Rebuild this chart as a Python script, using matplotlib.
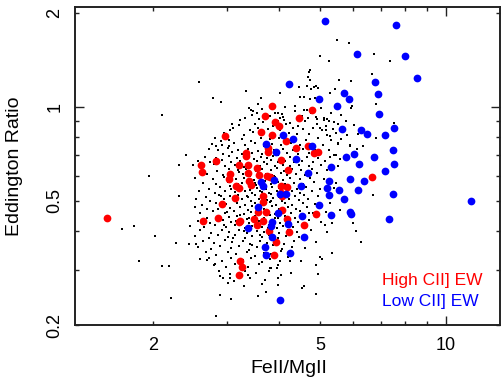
import matplotlib
matplotlib.use("Agg")
import matplotlib.pyplot as plt
from matplotlib.ticker import FixedLocator, FixedFormatter, FuncFormatter

plt.rcParams["font.family"] = ["Liberation Sans", "DejaVu Sans"]

# high CII] EW objects (red)
high_x = [1.55, 2.60, 2.61, 2.63, 2.82, 2.85, 2.91, 2.96, 3.03, 3.05, 3.13, 3.15, 3.20, 3.21,
          3.20, 3.23, 3.22, 3.26, 3.20, 3.33, 3.33, 3.37, 3.36, 3.39, 3.42, 3.48, 3.53, 3.54,
          3.55, 3.58, 3.61, 3.65, 3.65, 3.66, 3.69, 3.72, 3.75, 3.75, 3.74, 3.79, 3.78, 3.84,
          3.85, 3.90, 3.88, 3.93, 4.00, 4.03, 4.03, 4.03, 4.06, 4.05, 4.15, 4.18, 4.20, 4.18,
          4.21, 4.38, 4.46, 4.58, 4.69, 4.78, 4.83, 4.89, 4.94, 6.64]
high_y = [0.44, 0.65, 0.62, 0.43, 0.67, 0.44, 0.49, 0.81, 0.59, 0.61, 0.51, 0.56, 0.55, 0.65,
          0.427, 0.43, 0.32, 0.306, 0.29, 0.712, 0.695, 0.65, 0.614, 0.58, 0.562, 0.4375, 0.637, 0.418,
          0.46, 0.607, 0.83, 0.52, 0.497, 0.43, 0.938, 0.46, 0.72, 0.74, 0.60, 0.595, 0.40, 1.012,
          0.815, 0.893, 0.336, 0.37, 0.871, 0.678, 0.557, 0.53, 0.52, 0.469, 0.78, 0.553, 0.63, 0.4375,
          0.397, 0.739, 0.92, 0.418, 0.748, 0.98, 0.712, 0.455, 0.717, 0.598]

# low CII] EW objects (blue)
low_x = [5.14, 7.60, 6.12, 8.00, 8.54, 4.22, 6.77, 5.71, 6.88, 4.98, 5.87, 5.49, 6.90, 5.66,
         6.27, 6.49, 7.52, 7.14, 4.09, 4.30, 3.72, 3.92, 4.79, 4.38, 5.77, 6.03, 6.73, 7.47,
         6.20, 7.52, 5.31, 4.67, 7.16, 5.90, 6.36, 5.25, 3.88, 3.61, 3.66, 4.51, 5.20, 5.55,
         6.15, 5.25, 7.46, 4.02, 4.14, 5.70, 4.98, 11.5, 3.56, 3.97, 5.90, 5.93, 4.52, 5.30,
         7.30, 3.85, 3.82, 4.20, 3.37, 3.85, 4.58, 3.69, 3.72, 4.23, 4.02]
low_y = [1.896, 1.836, 1.479, 1.464, 1.236, 1.185, 1.206, 1.114, 1.098, 1.063, 1.063, 1.005, 0.952, 0.848,
         0.845, 0.823, 0.854, 0.815, 0.815, 0.79, 0.761, 0.719, 0.752, 0.681, 0.691, 0.707, 0.69, 0.728,
         0.655, 0.657, 0.641, 0.615, 0.622, 0.588, 0.58, 0.578, 0.583, 0.574, 0.557, 0.557, 0.55, 0.543,
         0.542, 0.521, 0.526, 0.527, 0.526, 0.507, 0.484, 0.50, 0.478, 0.456, 0.462, 0.455, 0.448, 0.452,
         0.4375, 0.427, 0.417, 0.422, 0.41, 0.384, 0.384, 0.355, 0.335, 0.34, 0.24]

# parent sample (small black dots)
field = [
    (3.38, 0.99), (3.46, 0.97), (3.63, 0.985), (3.91, 0.96), (4.36, 0.975), (5.03, 0.99), (4.12, 1.0), (3.55, 1.02),
    (3.44, 0.945), (3.53, 0.955), (3.79, 0.94), (4.06, 0.95), (4.52, 0.935), (5.32, 0.955), (5.62, 0.945), (4.75, 0.96),
    (3.31, 0.925), (3.58, 0.915), (3.74, 0.93), (4.11, 0.91), (4.69, 0.92), (5.12, 0.925), (5.26, 0.905), (4.93, 0.915),
    (3.66, 0.895), (3.96, 0.9), (4.24, 0.89), (4.61, 0.9), (5.41, 0.895), (5.78, 0.9),
    (3.21, 0.875), (3.49, 0.88), (3.86, 0.87), (4.16, 0.885), (4.44, 0.872), (4.91, 0.88), (5.16, 0.868), (5.52, 0.882), (6.02, 0.875),
    (3.1, 0.855), (3.41, 0.845), (3.56, 0.86), (3.76, 0.85), (4.01, 0.842), (4.31, 0.855), (4.56, 0.848), (4.82, 0.857), (5.06, 0.843), (5.36, 0.852),
    (2.95, 0.825), (3.29, 0.815), (3.46, 0.83), (3.66, 0.82), (3.89, 0.812), (4.21, 0.826), (4.41, 0.818), (4.71, 0.823), (5.21, 0.814), (5.46, 0.828), (6.18, 0.82),
    (2.81, 0.795), (3.04, 0.785), (3.26, 0.792), (3.43, 0.781), (3.61, 0.797), (3.79, 0.788), (3.99, 0.794), (4.13, 0.78), (4.33, 0.79), (4.62, 0.785), (4.96, 0.796), (5.31, 0.783), (5.62, 0.79),
    (2.76, 0.762), (2.91, 0.755), (3.12, 0.768), (3.31, 0.758), (3.49, 0.765), (3.67, 0.752), (3.84, 0.763), (4.03, 0.757), (4.26, 0.766), (4.49, 0.754), (4.76, 0.761), (5.09, 0.756), (5.51, 0.764), (5.91, 0.758),
    (2.71, 0.735), (2.86, 0.727), (3.01, 0.738), (3.19, 0.729), (3.37, 0.734), (3.56, 0.725), (3.71, 0.737), (3.89, 0.728), (4.09, 0.733), (4.31, 0.726), (4.56, 0.736), (4.86, 0.73), (5.26, 0.727), (6.12, 0.734),
    (2.94, 0.708), (3.09, 0.716), (3.26, 0.705), (3.44, 0.713), (3.63, 0.707), (3.77, 0.714), (3.97, 0.704), (4.17, 0.711), (4.43, 0.706), (4.71, 0.715), (5.01, 0.709), (5.39, 0.703),
    (2.66, 0.692), (2.83, 0.686), (3.03, 0.695), (3.16, 0.688), (3.31, 0.694), (3.47, 0.684), (3.61, 0.691), (3.73, 0.687), (3.87, 0.696), (4.04, 0.685), (4.23, 0.693), (4.41, 0.688), (4.66, 0.694), (4.94, 0.686), (5.28, 0.691),
    (2.56, 0.672), (2.73, 0.666), (2.91, 0.675), (3.07, 0.668), (3.23, 0.673), (3.39, 0.664), (3.53, 0.671), (3.67, 0.667), (3.83, 0.676), (3.97, 0.665), (4.13, 0.672), (4.33, 0.667), (4.54, 0.674), (4.81, 0.668), (5.14, 0.671),
    (2.79, 0.655), (2.97, 0.648), (3.13, 0.653), (3.29, 0.644), (3.43, 0.651), (3.59, 0.647), (3.73, 0.656), (3.91, 0.645), (4.07, 0.652), (4.24, 0.647), (4.46, 0.654), (4.71, 0.648), (5.04, 0.651), (5.52, 0.645),
    (2.61, 0.632), (2.84, 0.626), (3.03, 0.635), (3.19, 0.628), (3.33, 0.633), (3.51, 0.624), (3.63, 0.631), (3.81, 0.627), (3.94, 0.636), (4.11, 0.625), (4.29, 0.632), (4.51, 0.627), (4.79, 0.634), (5.21, 0.628),
    (2.69, 0.612), (2.93, 0.606), (3.09, 0.615), (3.27, 0.608), (3.41, 0.613), (3.54, 0.604), (3.71, 0.611), (3.85, 0.607), (4.03, 0.616), (4.17, 0.605), (4.39, 0.612), (4.61, 0.607), (4.91, 0.613),
    (2.51, 0.592), (2.77, 0.586), (2.95, 0.595), (3.15, 0.588), (3.29, 0.593), (3.47, 0.584), (3.59, 0.591), (3.76, 0.587), (3.91, 0.596), (4.09, 0.585), (4.24, 0.592), (4.47, 0.587), (4.74, 0.594), (5.11, 0.588),
    (2.63, 0.572), (2.83, 0.566), (3.01, 0.575), (3.19, 0.568), (3.37, 0.573), (3.51, 0.564), (3.67, 0.571), (3.81, 0.567), (3.98, 0.576), (4.13, 0.565), (4.33, 0.572), (4.56, 0.567), (4.84, 0.574),
    (2.71, 0.546), (2.89, 0.555), (3.07, 0.548), (3.23, 0.553), (3.41, 0.544), (3.54, 0.551), (3.71, 0.547), (3.85, 0.556), (4.03, 0.545), (4.19, 0.552), (4.41, 0.547), (4.64, 0.554), (5.01, 0.548), (5.41, 0.551),
    (2.57, 0.537), (2.81, 0.531), (2.97, 0.539), (3.13, 0.533), (3.31, 0.538), (3.45, 0.529), (3.63, 0.536), (3.77, 0.532), (3.94, 0.54), (4.09, 0.53), (4.29, 0.537), (4.49, 0.532), (4.79, 0.538),
    (2.67, 0.516), (2.87, 0.524), (3.05, 0.518), (3.19, 0.523), (3.37, 0.514), (3.49, 0.521), (3.67, 0.517), (3.81, 0.525), (3.99, 0.515), (4.15, 0.522), (4.37, 0.517), (4.59, 0.523), (4.96, 0.518),
    (2.53, 0.507), (2.73, 0.501), (2.95, 0.509), (3.11, 0.503), (3.25, 0.508), (3.43, 0.499), (3.57, 0.506), (3.73, 0.502), (3.87, 0.51), (4.06, 0.5), (4.21, 0.507), (4.45, 0.502), (4.69, 0.508),
    (2.61, 0.486), (2.83, 0.494), (2.99, 0.488), (3.17, 0.493), (3.31, 0.484), (3.49, 0.491), (3.61, 0.487), (3.79, 0.495), (3.93, 0.485), (4.13, 0.492), (4.29, 0.487), (4.56, 0.493), (4.86, 0.488), (5.29, 0.491),
    (2.69, 0.471), (2.91, 0.479), (3.05, 0.473), (3.23, 0.478), (3.37, 0.469), (3.55, 0.476), (3.67, 0.472), (3.85, 0.48), (3.99, 0.47), (4.19, 0.477), (4.39, 0.472), (4.66, 0.478),
    (2.59, 0.456), (2.77, 0.464), (2.97, 0.458), (3.11, 0.463), (3.29, 0.454), (3.43, 0.461), (3.61, 0.457), (3.73, 0.465), (3.91, 0.455), (4.07, 0.462), (4.27, 0.457), (4.49, 0.463), (4.81, 0.458), (5.16, 0.461),
    (2.69, 0.441), (2.85, 0.449), (3.03, 0.443), (3.17, 0.448), (3.35, 0.439), (3.49, 0.446), (3.67, 0.442), (3.79, 0.45), (3.97, 0.44), (4.13, 0.447), (4.36, 0.442), (4.61, 0.448),
    (2.56, 0.432), (2.73, 0.426), (2.93, 0.434), (3.07, 0.428), (3.25, 0.433), (3.39, 0.424), (3.57, 0.431), (3.71, 0.427), (3.87, 0.435), (4.01, 0.425), (4.21, 0.432), (4.43, 0.427), (4.71, 0.433), (5.02, 0.428),
    (2.65, 0.411), (2.81, 0.419), (2.99, 0.413), (3.13, 0.418), (3.31, 0.409), (3.45, 0.416), (3.63, 0.412), (3.77, 0.42), (3.95, 0.41), (4.09, 0.417), (4.31, 0.412), (4.54, 0.418),
    (2.59, 0.402), (2.75, 0.396), (2.91, 0.404), (3.03, 0.398), (3.21, 0.403), (3.35, 0.394), (3.53, 0.401), (3.67, 0.397), (3.85, 0.405), (3.99, 0.395), (4.19, 0.402), (4.41, 0.397), (4.76, 0.403), (5.21, 0.398),
    (2.51, 0.387), (2.71, 0.381), (2.85, 0.389), (3.01, 0.383), (3.13, 0.388), (3.31, 0.379), (3.45, 0.386), (3.63, 0.382), (3.77, 0.39), (3.96, 0.38), (4.16, 0.387), (4.46, 0.382),
    (2.63, 0.372), (2.79, 0.366), (2.97, 0.374), (3.09, 0.368), (3.27, 0.373), (3.41, 0.364), (3.59, 0.371), (3.73, 0.367), (3.91, 0.375), (4.11, 0.365), (4.34, 0.372),
    (2.55, 0.357), (2.75, 0.351), (2.89, 0.359), (3.07, 0.353), (3.21, 0.358), (3.39, 0.349), (3.53, 0.356), (3.71, 0.352), (3.87, 0.36), (4.06, 0.35), (4.29, 0.357), (4.61, 0.352),
    (2.67, 0.342), (2.83, 0.336), (3.01, 0.344), (3.15, 0.338), (3.35, 0.343), (3.49, 0.334), (3.67, 0.341), (3.83, 0.337), (4.03, 0.345), (4.24, 0.335),
    (2.71, 0.327), (2.91, 0.321), (3.07, 0.329), (3.27, 0.323), (3.43, 0.328), (3.63, 0.319), (3.79, 0.326), (4.01, 0.322), (4.19, 0.33), (4.51, 0.32),
    (2.79, 0.312), (2.99, 0.306), (3.13, 0.314), (3.37, 0.308), (3.57, 0.313), (3.79, 0.304), (3.97, 0.311),
    (2.87, 0.297), (3.05, 0.291), (3.31, 0.299), (3.51, 0.293), (3.77, 0.298), (4.04, 0.29),
    (2.93, 0.282), (3.11, 0.276), (3.41, 0.284), (3.69, 0.278), (3.96, 0.283),
    (3.01, 0.272), (3.29, 0.266), (3.63, 0.27),
    # denser core
    (3.05, 0.56), (3.15, 0.5), (3.22, 0.45), (3.35, 0.52), (3.45, 0.48), (3.52, 0.43), (3.6, 0.54), (3.68, 0.46),
    (3.75, 0.41), (3.82, 0.5), (3.3, 0.4), (3.4, 0.6), (3.2, 0.62), (3.55, 0.62), (3.7, 0.58), (3.9, 0.44),
    (3.0, 0.46), (2.9, 0.52), (3.1, 0.38), (3.45, 0.36), (3.6, 0.39), (2.95, 0.42), (3.25, 0.57), (3.5, 0.57),
    (3.88, 0.6), (4.0, 0.55), (3.38, 0.44), (3.15, 0.43), (2.85, 0.47), (3.65, 0.5),
    # scattered outliers
    (2.57, 1.2), (2.1, 0.945), (2.78, 1.07), (2.9, 1.04), (3.33, 1.13), (3.62, 1.07), (3.43, 0.98), (3.22, 0.91),
    (3.08, 0.88), (3.05, 0.846), (2.83, 0.75), (2.9, 0.776), (3.04, 0.748),
    (5.5, 1.64), (5.88, 1.61), (5.0, 1.46), (5.25, 1.41), (6.73, 1.48), (7.37, 1.41), (4.74, 1.32), (4.71, 1.30),
    (4.69, 1.25), (4.74, 1.22), (6.67, 1.28), (4.46, 1.16), (4.65, 1.165), (4.77, 1.14), (4.85, 1.16), (4.9, 1.17),
    (4.95, 1.15), (5.55, 1.22), (5.92, 1.21), (5.27, 1.11), (5.43, 1.14), (4.02, 1.11), (4.48, 1.08), (4.57, 1.077),
    (4.74, 1.06), (4.86, 1.066), (5.98, 1.01), (5.92, 0.99), (6.8, 1.025), (4.36, 1.01), (4.57, 0.976), (4.65, 0.98),
    (3.97, 0.956), (4.09, 0.929), (4.01, 0.922), (4.82, 0.956), (4.9, 0.933), (5.1, 0.91), (5.2, 0.915), (5.0, 0.857),
    (5.17, 0.842), (5.63, 0.83), (5.8, 0.815), (6.8, 0.796), (7.5, 0.889), (5.28, 0.806), (5.53, 0.767), (5.9, 0.752),
    (6.32, 0.748), (5.46, 0.70), (5.58, 0.68), (6.7, 0.524), (5.58, 0.466), (5.33, 0.426), (5.15, 0.42), (5.45, 0.57),
    (4.72, 0.457), (4.65, 0.415), (6.0, 0.425), (6.1, 0.40), (6.25, 0.368), (4.9, 0.368), (5.0, 0.33), (5.07, 0.325),
    (4.9, 0.312), (4.95, 0.292), (5.33, 0.34), (4.57, 0.267), (4.52, 0.262), (4.88, 0.252), (4.27, 0.294), (3.98, 0.268),
    (4.24, 0.32), (3.94, 0.305), (3.81, 0.305), (3.72, 0.255), (3.56, 0.248), (3.37, 0.29), (3.07, 0.243), (2.89, 0.249),
    (2.83, 0.213), (3.05, 0.283), (2.88, 0.287), (2.81, 0.313), (2.58, 0.326), (2.68, 0.324), (2.2, 0.244), (2.1, 0.309),
    (2.18, 0.309), (1.85, 0.32), (2.02, 0.385), (1.8, 0.416), (1.68, 0.406), (1.95, 0.60), (2.3, 0.65), (2.39, 0.704),
    (2.49, 0.65), (2.3, 0.52), (2.51, 0.478), (2.45, 0.415), (2.27, 0.367), (2.43, 0.363), (2.53, 0.364),
]
field_x = [p[0] for p in field]
field_y = [p[1] for p in field]

x_minor = [2, 3, 4, 5, 6, 7, 8, 9]
x_labels = {2: "2", 5: "5"}
y_minor = [0.2, 0.3, 0.4, 0.5, 0.6, 0.7, 0.8, 0.9, 2]
y_labels = {0.2: "0.2", 0.5: "0.5", 2.0: "2"}


def main() -> None:
    fig = plt.figure(figsize=(5.01, 3.79), dpi=100)
    ax = fig.add_axes([75 / 501, 54 / 379, 425 / 501, 318.3 / 379])
    ax.set_xscale("log")
    ax.set_yscale("log")

    ax.scatter(field_x, field_y, s=1.6, marker="s", c="black", linewidths=0, zorder=2)
    ax.scatter(high_x, high_y, s=31, c="#ff0000", linewidths=0, zorder=3)
    ax.scatter(low_x, low_y, s=31, c="#0000ff", linewidths=0, zorder=4)

    ax.set_xlim(1.30, 13.46)
    ax.set_ylim(0.2, 2.10)

    ax.xaxis.set_major_locator(FixedLocator([10]))
    ax.xaxis.set_major_formatter(FixedFormatter(["10"]))
    ax.xaxis.set_minor_locator(FixedLocator(x_minor))
    ax.xaxis.set_minor_formatter(FuncFormatter(lambda v, p: x_labels.get(round(v), "")))
    ax.yaxis.set_major_locator(FixedLocator([1]))
    ax.yaxis.set_major_formatter(FixedFormatter(["1"]))
    ax.yaxis.set_minor_locator(FixedLocator(y_minor))
    ax.yaxis.set_minor_formatter(FuncFormatter(lambda v, p: y_labels.get(round(v, 1), "")))

    ax.tick_params(which="both", direction="in", top=True, right=True,
                   labelsize=13, pad=8.5, width=1.0, color="#222222")
    ax.tick_params(which="major", length=6.5)
    ax.tick_params(which="minor", length=3.1)
    ax.tick_params(axis="y", which="both", labelrotation=90)
    for lbl in ax.get_yticklabels(which="both"):
        lbl.set_verticalalignment("center")
    for side in ax.spines.values():
        side.set_linewidth(1.4)
        side.set_color("#222222")

    ax.set_xlabel("FeII/MgII", fontsize=14)
    ax.xaxis.set_label_coords(0.503, -0.11)
    ax.set_ylabel("Eddington Ratio", fontsize=14)
    ax.yaxis.set_label_coords(-0.122, 0.5)

    ax.text(0.723, 0.141, "High CII] EW", color="#ff0000", fontsize=12.5,
            va="center", ha="left", transform=ax.transAxes)
    ax.text(0.723, 0.075, "Low CII] EW", color="#0000ff", fontsize=12.5,
            va="center", ha="left", transform=ax.transAxes)

    fig.savefig("out.png", dpi=100)


if __name__ == "__main__":
    main()
